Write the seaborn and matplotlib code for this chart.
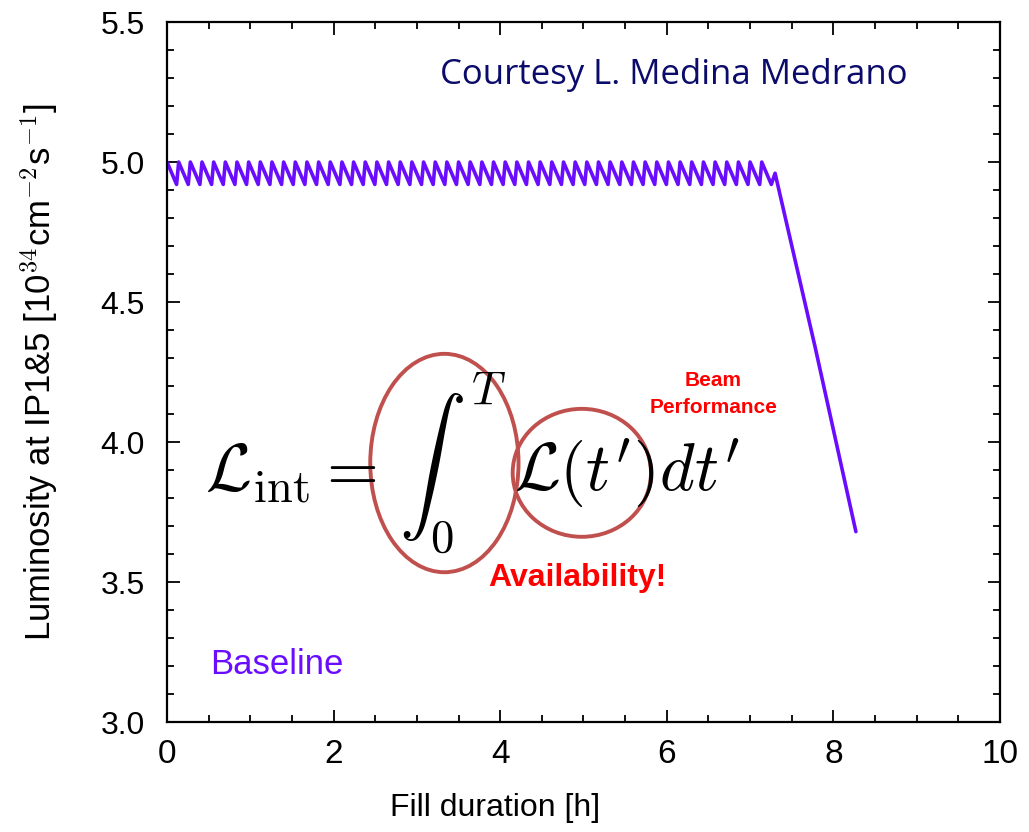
import numpy as np
import matplotlib
matplotlib.use("Agg")
import matplotlib.pyplot as plt
from matplotlib.patches import Ellipse
from matplotlib import font_manager
import pandas as pd
import seaborn as sns

# ── Data ────────────────────────────────────────────────────────
# start time of each levelling step [h] (luminosity jumps back to the peak)
step_start_h = [0.00, 0.14, 0.28, 0.42, 0.56, 0.70, 0.84, 0.98, 1.12, 1.26,
                1.40, 1.54, 1.68, 1.82, 1.96, 2.10, 2.24, 2.38, 2.52, 2.66,
                2.80, 2.94, 3.08, 3.22, 3.36, 3.50, 3.64, 3.78, 3.92, 4.06,
                4.20, 4.34, 4.48, 4.62, 4.76, 4.90, 5.04, 5.18, 5.32, 5.46,
                5.60, 5.74, 5.88, 6.02, 6.16, 6.30, 6.44, 6.58, 6.72, 6.86,
                7.00, 7.14]
# time of the trough reached just before the next step [h]
step_end_h = [0.115, 0.255, 0.395, 0.535, 0.675, 0.815, 0.955, 1.095, 1.235, 1.375,
              1.515, 1.655, 1.795, 1.935, 2.075, 2.215, 2.355, 2.495, 2.635, 2.775,
              2.915, 3.055, 3.195, 3.335, 3.475, 3.615, 3.755, 3.895, 4.035, 4.175,
              4.315, 4.455, 4.595, 4.735, 4.875, 5.015, 5.155, 5.295, 5.435, 5.575,
              5.715, 5.855, 5.995, 6.135, 6.275, 6.415, 6.555, 6.695, 6.835, 6.975,
              7.115, 7.255]
peak_lumi = 5.00
trough_lumi = 4.92

# end of levelling: natural decay [h], [1e34]
decay_h = [7.30, 7.78, 8.27]
decay_lumi = [4.96, 4.34, 3.68]

x_ticks = [0, 2, 4, 6, 8, 10]
y_ticks = [3.0, 3.5, 4.0, 4.5, 5.0, 5.5]

# ── Build the curve table ───────────────────────────────────────
xs, ys = [], []
for t0, t1 in zip(step_start_h, step_end_h):
    xs += [t0, t1]
    ys += [peak_lumi, trough_lumi]
xs += decay_h
ys += decay_lumi
df = pd.DataFrame({"Fill duration [h]": xs, "Luminosity": ys})

# ── Style ───────────────────────────────────────────────────────
sns.set_style("ticks")
available = {f.name for f in font_manager.fontManager.ttflist}
narrow = "Liberation Sans Narrow" if "Liberation Sans Narrow" in available else "Liberation Sans"
plt.rcParams["font.family"] = ["Liberation Sans", "DejaVu Sans"]
plt.rcParams["mathtext.fontset"] = "cm"
plt.rcParams["text.color"] = "black"
plt.rcParams["axes.labelcolor"] = "black"
plt.rcParams["xtick.color"] = "black"
plt.rcParams["ytick.color"] = "black"

LINE = "#6a0dff"
RING = "#c0504d"

fig = plt.figure(figsize=(10.29, 8.32), dpi=100)
ax = fig.add_axes([0.1623, 0.1322, 0.8095, 0.8413])

sns.lineplot(data=df, x="Fill duration [h]", y="Luminosity", ax=ax,
             color=LINE, linewidth=2.6, sort=False, estimator=None)

ax.set_xlim(0, 10)
ax.set_ylim(3.0, 5.5)
ax.set_xticks(x_ticks)
ax.set_yticks(y_ticks)
ax.set_xticklabels([str(v) for v in x_ticks], fontsize=24, family=narrow)
ax.set_yticklabels([f"{v:.1f}" for v in y_ticks], fontsize=23)
ax.xaxis.set_minor_locator(matplotlib.ticker.MultipleLocator(0.5))
ax.yaxis.set_minor_locator(matplotlib.ticker.MultipleLocator(0.1))
ax.tick_params(which="both", direction="in", top=True, right=True,
               width=1.3, color="black", labelcolor="black")
ax.tick_params(which="major", length=9)
ax.tick_params(which="minor", length=5)
ax.tick_params(axis="y", which="major", pad=16)
ax.tick_params(axis="x", which="major", pad=12)
for s in ax.spines.values():
    s.set_linewidth(1.6)
    s.set_color("black")

ax.set_xlabel("Fill duration [h]", fontsize=23, family=narrow)
ax.set_ylabel(r"Luminosity at IP1&5 [10$^{34}$cm$^{-2}$s$^{-1}$]",
              fontsize=25, family=narrow)
ax.xaxis.set_label_coords(0.394, -0.102)
ax.yaxis.set_label_coords(-0.128, 0.5)

# ── Annotations ────────────────────────────────────────────────
ax.text(6.08, 5.31, "Courtesy L. Medina Medrano", color="#0b0b6b",
        fontsize=25, family=["Open Sans", "DejaVu Sans"],
        ha="center", va="center")
ax.text(0.52, 3.204, "Baseline", color=LINE, fontsize=25,
        ha="left", va="center")

# integrated luminosity formula, in three pieces so the rings frame them
formula_base = 3.825
ax.text(0.46, formula_base, r"$\mathcal{L}_{\rm int} =$",
        fontsize=48, ha="left", va="baseline")
ax.text(2.79, formula_base, r"$\int_0^T$",
        fontsize=48, ha="left", va="baseline")
ax.text(4.17, formula_base, r"$\mathcal{L}(t^\prime) dt^\prime$",
        fontsize=48, ha="left", va="baseline")

ax.add_patch(Ellipse((3.33, 3.925), 1.78, 0.78, fill=False,
                     edgecolor=RING, linewidth=2.8))
ax.add_patch(Ellipse((4.98, 3.89), 1.66, 0.457, fill=False,
                     edgecolor=RING, linewidth=2.8))

ax.text(6.56, 4.22, "Beam", color="#ff0000", fontsize=15,
        fontweight="bold", ha="center", va="center")
ax.text(6.56, 4.125, "Performance", color="#ff0000", fontsize=15,
        fontweight="bold", ha="center", va="center")
ax.text(4.92, 3.514, "Availability!", color="#ff0000", fontsize=23,
        fontweight="bold", ha="center", va="center")

fig.savefig("out.png", dpi=100)
